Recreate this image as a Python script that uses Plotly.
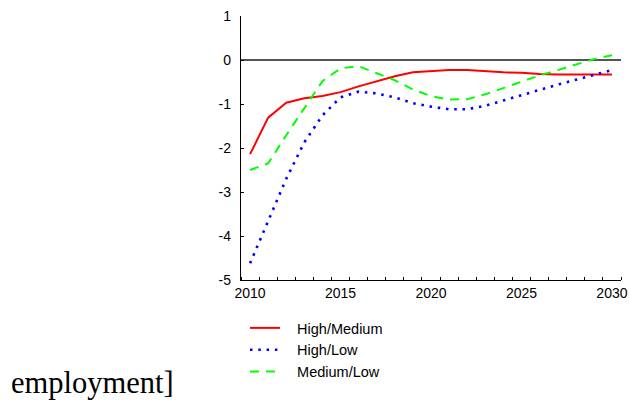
import plotly.graph_objects as go

years = list(range(2010, 2031))
high_medium = [-2.14, -1.31, -0.97, -0.87, -0.82, -0.73, -0.60, -0.48, -0.37, -0.28,
               -0.26, -0.23, -0.23, -0.26, -0.28, -0.29, -0.32, -0.33, -0.33, -0.33, -0.33]
high_low = [-4.62, -3.66, -2.70, -1.87, -1.26, -0.85, -0.72, -0.76, -0.85, -0.98,
            -1.06, -1.12, -1.12, -1.04, -0.92, -0.79, -0.67, -0.56, -0.45, -0.34, -0.23]
medium_low = [-2.50, -2.35, -1.71, -1.08, -0.48, -0.19, -0.14, -0.30, -0.46, -0.67,
              -0.82, -0.90, -0.89, -0.78, -0.64, -0.49, -0.35, -0.23, -0.10, 0.02, 0.11]

x_label_years = [2010, 2015, 2020, 2025, 2030]
y_ticks = [-5, -4, -3, -2, -1, 0, 1]
y_tick_text = ["-5", "-4", "-3", "-2", "-1", "0", "1"]

pad = "\u00a0\u00a0\u00a0"
fig = go.Figure()
fig.add_trace(go.Scatter(x=years, y=high_medium, mode="lines", name=pad + "High/Medium",
                         line=dict(color="#ff0000", width=2)))
fig.add_trace(go.Scatter(x=years, y=high_low, mode="lines", name=pad + "High/Low",
                         line=dict(color="#0000ff", width=2.6, dash="2.5px,5.8px")))
fig.add_trace(go.Scatter(x=years, y=medium_low, mode="lines", name=pad + "Medium/Low",
                         line=dict(color="#00ff00", width=2, dash="9px,7px")))

font_sans = "Liberation Sans, Arial, sans-serif"

fig.update_layout(
    width=629, height=400,
    margin=dict(l=241, r=8, t=16, b=120, autoexpand=False),
    paper_bgcolor="white", plot_bgcolor="white",
    font=dict(family=font_sans, size=14, color="black"),
    showlegend=True,
    legend=dict(x=0.0105, y=-0.121, xanchor="left", yanchor="top",
                font=dict(family=font_sans, size=14.5, color="black"),
                bgcolor="rgba(0,0,0,0)", tracegroupgap=0),
    xaxis=dict(range=[2009.5, 2030.5], tickmode="array", tickvals=x_label_years,
               ticks="", showgrid=False, zeroline=False, automargin=False,
               ticklabeloverflow="allow",
               showline=True, linecolor="black", linewidth=1.3,
               tickfont=dict(size=14),
               minor=dict(tickmode="linear", tick0=2009.5, dtick=1, ticks="inside",
                          ticklen=3, tickcolor="black", tickwidth=1, showgrid=False)),
    yaxis=dict(range=[-5, 1], tickmode="array", tickvals=y_ticks, ticktext=y_tick_text,
               ticks="inside", ticklen=3, tickcolor="black", showgrid=False,
               zeroline=True, zerolinecolor="#555555", zerolinewidth=1.5, automargin=False,
               ticklabeloverflow="allow",
               showline=True, linecolor="black", linewidth=1.3,
               tickfont=dict(size=14), ticklabelstandoff=6),
)

fig.add_annotation(text="employment]", xref="paper", yref="paper",
                   x=-0.6079, y=-0.392, xanchor="left", yanchor="middle",
                   showarrow=False, borderpad=0,
                   font=dict(family="Liberation Serif, Times New Roman, serif", size=30.5, color="black"))

fig.write_html("out.html", config={"displayModeBar": False},
               post_script="document.body.style.margin='0';document.body.style.overflow='hidden';")
